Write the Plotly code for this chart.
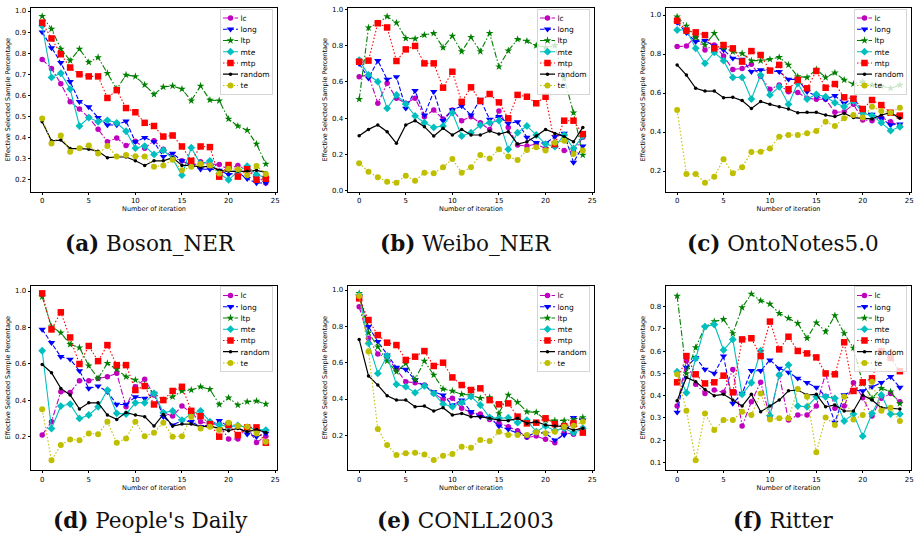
import plotly.graph_objects as go

W, H = 914, 534

ITER = list(range(25))
SERIES = ["lc", "long", "ltp", "mte", "mtp", "random", "te"]
X_TICKS = [0, 5, 10, 15, 20, 25]
Y_TICKS_A = [0.2, 0.3, 0.4, 0.5, 0.6, 0.7, 0.8, 0.9, 1.0]
Y_TICKS_B = [0.0, 0.2, 0.4, 0.6, 0.8, 1.0]
Y_TICKS_C = [0.2, 0.4, 0.6, 0.8, 1.0]
Y_TICKS_D = [0.2, 0.4, 0.6, 0.8, 1.0]
Y_TICKS_E = [0.2, 0.4, 0.6, 0.8, 1.0]
Y_TICKS_F = [0.1, 0.2, 0.3, 0.4, 0.5, 0.6, 0.7, 0.8]
CAPTIONS = ["<b>(a)</b> Boson_NER", "<b>(b)</b> Weibo_NER", "<b>(c)</b> OntoNotes5.0",
            "<b>(d)</b> People's Daily", "<b>(e)</b> CONLL2003", "<b>(f)</b> Ritter"]

# (a) Boson_NER
boson_lc = [0.77, 0.728, 0.655, 0.57, 0.535, 0.495, 0.44, 0.38, 0.398, 0.362, 0.383, 0.35, 0.385, 0.345, 0.305, 0.29, 0.265, 0.285, 0.275, 0.272, 0.25, 0.268, 0.248, 0.218, 0.185]
boson_long = [0.90, 0.825, 0.755, 0.665, 0.57, 0.545, 0.495, 0.46, 0.46, 0.478, 0.38, 0.40, 0.38, 0.31, 0.325, 0.29, 0.27, 0.25, 0.25, 0.245, 0.225, 0.235, 0.205, 0.185, 0.185]
boson_ltp = [0.975, 0.915, 0.82, 0.765, 0.82, 0.757, 0.78, 0.705, 0.63, 0.697, 0.69, 0.65, 0.605, 0.64, 0.645, 0.63, 0.575, 0.645, 0.578, 0.575, 0.488, 0.455, 0.435, 0.37, 0.275]
boson_mte = [0.93, 0.685, 0.705, 0.63, 0.455, 0.495, 0.475, 0.482, 0.47, 0.43, 0.35, 0.36, 0.32, 0.34, 0.30, 0.222, 0.352, 0.275, 0.29, 0.23, 0.20, 0.24, 0.265, 0.225, 0.21]
boson_mtp = [0.945, 0.87, 0.795, 0.732, 0.70, 0.69, 0.69, 0.588, 0.625, 0.54, 0.52, 0.47, 0.455, 0.405, 0.41, 0.358, 0.29, 0.358, 0.355, 0.215, 0.27, 0.215, 0.25, 0.20, 0.205]
boson_random = [0.475, 0.385, 0.388, 0.348, 0.348, 0.345, 0.335, 0.305, 0.308, 0.308, 0.29, 0.268, 0.29, 0.29, 0.305, 0.268, 0.268, 0.26, 0.265, 0.245, 0.24, 0.24, 0.24, 0.245, 0.235]
boson_te = [0.49, 0.372, 0.41, 0.333, 0.35, 0.362, 0.325, 0.36, 0.31, 0.318, 0.312, 0.31, 0.262, 0.268, 0.295, 0.245, 0.262, 0.275, 0.268, 0.23, 0.252, 0.25, 0.222, 0.265, 0.228]

# (b) Weibo_NER
weibo_lc = [0.628, 0.638, 0.482, 0.592, 0.509, 0.482, 0.509, 0.408, 0.445, 0.395, 0.445, 0.386, 0.408, 0.375, 0.338, 0.439, 0.349, 0.252, 0.246, 0.257, 0.233, 0.243, 0.221, 0.215, 0.294]
weibo_long = [0.70, 0.62, 0.717, 0.614, 0.628, 0.454, 0.551, 0.417, 0.546, 0.386, 0.445, 0.467, 0.417, 0.504, 0.393, 0.408, 0.371, 0.38, 0.294, 0.265, 0.261, 0.298, 0.316, 0.156, 0.246]
weibo_ltp = [0.504, 0.899, 0.923, 0.96, 0.926, 0.84, 0.838, 0.858, 0.868, 0.789, 0.853, 0.767, 0.846, 0.768, 0.868, 0.684, 0.772, 0.835, 0.825, 0.80, 0.79, 0.80, 0.62, 0.43, 0.197]
weibo_mte = [0.72, 0.638, 0.601, 0.454, 0.528, 0.478, 0.412, 0.375, 0.349, 0.357, 0.43, 0.301, 0.32, 0.362, 0.375, 0.386, 0.228, 0.32, 0.357, 0.307, 0.257, 0.243, 0.307, 0.233, 0.301]
weibo_mtp = [0.711, 0.717, 0.923, 0.90, 0.715, 0.779, 0.798, 0.702, 0.702, 0.568, 0.656, 0.49, 0.57, 0.494, 0.533, 0.487, 0.399, 0.528, 0.518, 0.482, 0.518, 0.257, 0.386, 0.386, 0.312]
weibo_random = [0.303, 0.338, 0.362, 0.325, 0.261, 0.362, 0.386, 0.353, 0.301, 0.344, 0.307, 0.338, 0.307, 0.307, 0.329, 0.312, 0.325, 0.257, 0.27, 0.301, 0.338, 0.316, 0.298, 0.27, 0.349]
weibo_te = [0.151, 0.105, 0.074, 0.05, 0.044, 0.083, 0.055, 0.099, 0.096, 0.129, 0.175, 0.099, 0.129, 0.197, 0.178, 0.228, 0.188, 0.169, 0.224, 0.239, 0.221, 0.265, 0.276, 0.202, 0.221]

# (c) OntoNotes5.0
onto_lc = [0.838, 0.841, 0.889, 0.821, 0.846, 0.79, 0.721, 0.726, 0.747, 0.684, 0.619, 0.641, 0.607, 0.603, 0.573, 0.568, 0.568, 0.501, 0.504, 0.542, 0.462, 0.458, 0.475, 0.453, 0.431]
onto_long = [0.961, 0.909, 0.863, 0.868, 0.841, 0.821, 0.778, 0.773, 0.709, 0.718, 0.715, 0.709, 0.67, 0.67, 0.607, 0.585, 0.568, 0.586, 0.547, 0.576, 0.504, 0.491, 0.47, 0.436, 0.441]
onto_ltp = [0.991, 0.944, 0.885, 0.846, 0.906, 0.834, 0.812, 0.803, 0.766, 0.766, 0.773, 0.783, 0.744, 0.684, 0.68, 0.721, 0.68, 0.704, 0.667, 0.646, 0.658, 0.641, 0.636, 0.624, 0.641]
onto_mte = [0.923, 0.923, 0.829, 0.752, 0.809, 0.766, 0.68, 0.68, 0.569, 0.692, 0.59, 0.632, 0.542, 0.65, 0.569, 0.593, 0.581, 0.55, 0.53, 0.559, 0.496, 0.484, 0.448, 0.407, 0.427]
onto_mtp = [0.971, 0.92, 0.911, 0.897, 0.829, 0.846, 0.829, 0.761, 0.815, 0.795, 0.715, 0.744, 0.62, 0.667, 0.624, 0.713, 0.627, 0.646, 0.578, 0.571, 0.518, 0.564, 0.538, 0.499, 0.484]
onto_random = [0.744, 0.692, 0.624, 0.61, 0.61, 0.576, 0.578, 0.561, 0.521, 0.556, 0.542, 0.53, 0.518, 0.499, 0.501, 0.501, 0.487, 0.479, 0.496, 0.474, 0.47, 0.467, 0.487, 0.499, 0.47]
onto_te = [0.513, 0.185, 0.185, 0.14, 0.171, 0.26, 0.188, 0.219, 0.297, 0.299, 0.316, 0.376, 0.385, 0.385, 0.393, 0.405, 0.453, 0.431, 0.47, 0.487, 0.475, 0.53, 0.508, 0.499, 0.525]

# (d) People's Daily
people_lc = [0.209, 0.282, 0.447, 0.443, 0.507, 0.507, 0.52, 0.529, 0.548, 0.364, 0.474, 0.515, 0.429, 0.332, 0.313, 0.368, 0.332, 0.282, 0.269, 0.269, 0.187, 0.187, 0.255, 0.168, 0.203]
people_long = [0.789, 0.716, 0.639, 0.625, 0.562, 0.465, 0.478, 0.447, 0.377, 0.377, 0.419, 0.41, 0.438, 0.31, 0.264, 0.288, 0.282, 0.255, 0.264, 0.288, 0.255, 0.255, 0.214, 0.2, 0.218]
people_ltp = [0.969, 0.804, 0.771, 0.707, 0.689, 0.59, 0.52, 0.603, 0.57, 0.529, 0.511, 0.484, 0.438, 0.401, 0.419, 0.451, 0.456, 0.474, 0.46, 0.377, 0.414, 0.374, 0.392, 0.396, 0.379]
people_mte = [0.672, 0.245, 0.368, 0.379, 0.30, 0.319, 0.364, 0.456, 0.328, 0.324, 0.386, 0.386, 0.438, 0.332, 0.341, 0.291, 0.324, 0.342, 0.282, 0.264, 0.255, 0.262, 0.251, 0.24, 0.236]
people_mtp = [0.987, 0.789, 0.883, 0.745, 0.599, 0.698, 0.615, 0.703, 0.593, 0.593, 0.456, 0.478, 0.377, 0.401, 0.451, 0.474, 0.342, 0.313, 0.269, 0.20, 0.264, 0.209, 0.251, 0.251, 0.167]
people_random = [0.597, 0.551, 0.465, 0.429, 0.352, 0.386, 0.386, 0.319, 0.295, 0.333, 0.319, 0.31, 0.258, 0.322, 0.258, 0.269, 0.269, 0.255, 0.258, 0.245, 0.233, 0.245, 0.227, 0.24, 0.223]
people_te = [0.35, 0.071, 0.154, 0.185, 0.181, 0.218, 0.214, 0.282, 0.167, 0.19, 0.282, 0.203, 0.222, 0.277, 0.20, 0.203, 0.31, 0.245, 0.255, 0.236, 0.277, 0.258, 0.255, 0.218, 0.172]

# (e) CONLL2003
conll_lc = [0.908, 0.734, 0.648, 0.629, 0.563, 0.495, 0.49, 0.477, 0.431, 0.398, 0.404, 0.349, 0.325, 0.317, 0.288, 0.27, 0.248, 0.226, 0.189, 0.196, 0.178, 0.16, 0.215, 0.206, 0.239]
conll_long = [0.967, 0.798, 0.716, 0.642, 0.574, 0.563, 0.505, 0.472, 0.44, 0.422, 0.367, 0.394, 0.33, 0.303, 0.297, 0.251, 0.233, 0.211, 0.193, 0.217, 0.211, 0.174, 0.202, 0.297, 0.284]
conll_ltp = [0.982, 0.765, 0.688, 0.609, 0.55, 0.596, 0.508, 0.609, 0.532, 0.455, 0.444, 0.426, 0.422, 0.404, 0.409, 0.321, 0.422, 0.382, 0.33, 0.327, 0.284, 0.281, 0.281, 0.288, 0.299]
conll_mte = [0.972, 0.706, 0.541, 0.637, 0.481, 0.468, 0.435, 0.472, 0.431, 0.372, 0.358, 0.38, 0.413, 0.367, 0.299, 0.294, 0.297, 0.27, 0.284, 0.22, 0.251, 0.226, 0.239, 0.215, 0.239]
conll_mtp = [0.954, 0.835, 0.752, 0.71, 0.697, 0.615, 0.633, 0.664, 0.582, 0.60, 0.519, 0.477, 0.45, 0.459, 0.394, 0.371, 0.376, 0.303, 0.266, 0.27, 0.294, 0.262, 0.251, 0.266, 0.215]
conll_random = [0.728, 0.527, 0.477, 0.418, 0.394, 0.394, 0.358, 0.361, 0.334, 0.352, 0.312, 0.321, 0.303, 0.303, 0.294, 0.284, 0.281, 0.294, 0.266, 0.275, 0.257, 0.251, 0.248, 0.229, 0.239]
conll_te = [0.967, 0.661, 0.235, 0.147, 0.092, 0.101, 0.105, 0.095, 0.064, 0.088, 0.097, 0.138, 0.132, 0.174, 0.169, 0.22, 0.202, 0.202, 0.202, 0.217, 0.211, 0.22, 0.248, 0.253, 0.275]

# (f) Ritter
ritter_lc = [0.353, 0.557, 0.451, 0.41, 0.425, 0.415, 0.518, 0.263, 0.373, 0.46, 0.305, 0.493, 0.29, 0.313, 0.313, 0.353, 0.50, 0.343, 0.353, 0.458, 0.391, 0.308, 0.388, 0.41, 0.373]
ritter_long = [0.325, 0.527, 0.571, 0.518, 0.50, 0.578, 0.365, 0.41, 0.512, 0.512, 0.56, 0.523, 0.505, 0.478, 0.458, 0.437, 0.398, 0.28, 0.403, 0.425, 0.421, 0.44, 0.458, 0.485, 0.437]
ritter_ltp = [0.848, 0.50, 0.616, 0.71, 0.733, 0.743, 0.68, 0.796, 0.857, 0.827, 0.812, 0.77, 0.748, 0.725, 0.658, 0.728, 0.688, 0.76, 0.68, 0.614, 0.455, 0.388, 0.433, 0.418, 0.365]
ritter_mte = [0.508, 0.413, 0.568, 0.71, 0.72, 0.605, 0.653, 0.406, 0.458, 0.602, 0.31, 0.493, 0.538, 0.353, 0.35, 0.395, 0.395, 0.388, 0.286, 0.317, 0.218, 0.32, 0.403, 0.317, 0.317]
ritter_mtp = [0.46, 0.578, 0.496, 0.455, 0.46, 0.49, 0.415, 0.653, 0.658, 0.578, 0.733, 0.608, 0.665, 0.601, 0.59, 0.572, 0.50, 0.496, 0.64, 0.421, 0.46, 0.478, 0.60, 0.57, 0.51]
ritter_random = [0.377, 0.482, 0.463, 0.428, 0.40, 0.406, 0.38, 0.353, 0.406, 0.328, 0.353, 0.38, 0.422, 0.425, 0.403, 0.406, 0.35, 0.358, 0.331, 0.331, 0.403, 0.38, 0.346, 0.343, 0.34]
ritter_te = [0.496, 0.332, 0.11, 0.32, 0.245, 0.29, 0.29, 0.328, 0.313, 0.41, 0.293, 0.298, 0.298, 0.43, 0.395, 0.145, 0.302, 0.268, 0.395, 0.293, 0.313, 0.463, 0.332, 0.346, 0.286]

PANEL_DATA = [
    [boson_lc, boson_long, boson_ltp, boson_mte, boson_mtp, boson_random, boson_te],
    [weibo_lc, weibo_long, weibo_ltp, weibo_mte, weibo_mtp, weibo_random, weibo_te],
    [onto_lc, onto_long, onto_ltp, onto_mte, onto_mtp, onto_random, onto_te],
    [people_lc, people_long, people_ltp, people_mte, people_mtp, people_random, people_te],
    [conll_lc, conll_long, conll_ltp, conll_mte, conll_mtp, conll_random, conll_te],
    [ritter_lc, ritter_long, ritter_ltp, ritter_mte, ritter_mtp, ritter_random, ritter_te],
]
PANEL_YTICKS = [Y_TICKS_A, Y_TICKS_B, Y_TICKS_C, Y_TICKS_D, Y_TICKS_E, Y_TICKS_F]
PANEL_YRANGE = [[0.1445, 1.0142], [-0.0044, 1.0072], [0.0949, 1.0359],
                [0.017, 1.0302], [0.0094, 1.0248], [0.0657, 0.8953]]

# layout in pixels
COL_PX = [(31, 277), (348, 594), (666, 911)]
ROW_PX = [(8, 191.5), (285.5, 470)]
CAP_X = [150, 466, 783]
CAP_Y = [243, 520]

STYLE = {
    "lc":     dict(color="#bf00bf", symbol="circle", size=5.5, dash="6px,2px,1.5px,2px", width=1.1),
    "long":   dict(color="#0000ff", symbol="triangle-down", size=6.5, dash="4.5px,2px", width=1.1),
    "ltp":    dict(color="#008000", symbol="star", size=5.8, dash="6px,2px,1.5px,2px", width=1.1),
    "mte":    dict(color="#00bfbf", symbol="diamond", size=6, dash="solid", width=1.1),
    "mtp":    dict(color="#ff0000", symbol="square", size=6.5, dash="1.5px,2px", width=1.1),
    "random": dict(color="#000000", symbol="circle", size=3.5, dash="solid", width=1.2),
    "te":     dict(color="#bfbf00", symbol="circle", size=6, dash="1.5px,2px", width=1.1),
}


def scale_dash(d, k):
    if d == "solid":
        return d
    return ",".join("%gpx" % (float(p.replace("px", "")) * k) for p in d.split(","))


LEG_SCALE = 0.5
FONT = "DejaVu Sans"

fig = go.Figure()
layout = dict(width=W, height=H, margin=dict(l=0, r=0, t=0, b=0),
              paper_bgcolor="white", plot_bgcolor="white", annotations=[])

for p in range(6):
    r, c = divmod(p, 3)
    n = p + 1
    sfx = "" if n == 1 else str(n)
    xa, ya = "x" + sfx, "y" + sfx
    legname = "legend" + sfx
    for s, vals in zip(SERIES, PANEL_DATA[p]):
        st = STYLE[s]
        fig.add_trace(go.Scatter(
            x=ITER, y=vals, mode="lines+markers", name=s, xaxis=xa, yaxis=ya,
            showlegend=False, cliponaxis=False,
            line=dict(color=st["color"], width=st["width"], dash=st["dash"]),
            marker=dict(color=st["color"], symbol=st["symbol"], size=st["size"], line=dict(width=0)),
        ))
    for s in SERIES:
        st = STYLE[s]
        k = 1.0 / LEG_SCALE
        fig.add_trace(go.Scatter(
            x=[None], y=[None], mode="lines+markers", name=s, xaxis=xa, yaxis=ya,
            showlegend=True, legend=legname,
            line=dict(color=st["color"], width=st["width"] * k, dash=scale_dash(st["dash"], k)),
            marker=dict(color=st["color"], symbol=st["symbol"], size=st["size"] * k, line=dict(width=0)),
        ))
    x0, x1 = COL_PX[c]
    y0, y1 = ROW_PX[r]
    axis_common = dict(showline=True, linecolor="black", linewidth=0.8, mirror=True,
                       ticks="outside", ticklen=2.5, tickwidth=0.7, tickcolor="black",
                       showgrid=False, zeroline=False, automargin=False,
                       tickfont=dict(family=FONT, size=7, color="black"))
    layout["xaxis" + sfx] = dict(
        axis_common, domain=[x0 / W, x1 / W], anchor=ya, range=[-1.2, 25.2],
        tickvals=X_TICKS, ticktext=[str(t) for t in X_TICKS],
        title=dict(text="Number of iteration", standoff=2,
                   font=dict(family=FONT, size=6.5, color="black")))
    yt = PANEL_YTICKS[p]
    layout["yaxis" + sfx] = dict(
        axis_common, domain=[1 - y1 / H, 1 - y0 / H], anchor=xa, range=PANEL_YRANGE[p],
        tickvals=yt, ticktext=["%.1f" % v for v in yt],
        title=dict(text="Effective Selected Sample Percentage", standoff=3,
                   font=dict(family=FONT, size=6.5, color="black")))
    layout[legname] = dict(
        x=(x1 - 3) / W, xanchor="right", y=1 - (y0 + 1) / H, yanchor="top",
        bgcolor="rgba(255,255,255,0.8)", bordercolor="#cccccc", borderwidth=1.6,
        font=dict(family=FONT, size=15, color="black"), itemwidth=30, tracegroupgap=0)
    layout["annotations"].append(dict(
        text=CAPTIONS[p], x=CAP_X[c] / W, y=1 - CAP_Y[r] / H, xref="paper", yref="paper",
        xanchor="center", yanchor="middle", showarrow=False,
        font=dict(family="DejaVu Serif", size=21.5, color="#111111")))

fig.update_layout(**layout)

POST = """
document.body.style.margin = '0';
var gd = document.getElementById('{plot_id}');
var s = %s;
gd.querySelectorAll('.infolayer > g').forEach(function(g){
  var c = g.getAttribute('class') || '';
  if(!/^legend\\d*$/.test(c)) return;
  var t = g.getAttribute('transform') || '';
  var m = /translate\\(\\s*([-\\d.e]+)[ ,]+([-\\d.e]+)\\s*\\)/.exec(t);
  if(!m) return;
  var x = parseFloat(m[1]), y = parseFloat(m[2]);
  var bg = g.querySelector('rect.bg');
  var w = bg ? parseFloat(bg.getAttribute('width')) : 0;
  g.setAttribute('transform', 'translate(' + (x + w * (1 - s)) + ',' + y + ') scale(' + s + ')');
});
""" % LEG_SCALE

fig.write_html("out.html", post_script=POST, config={"displayModeBar": False})
